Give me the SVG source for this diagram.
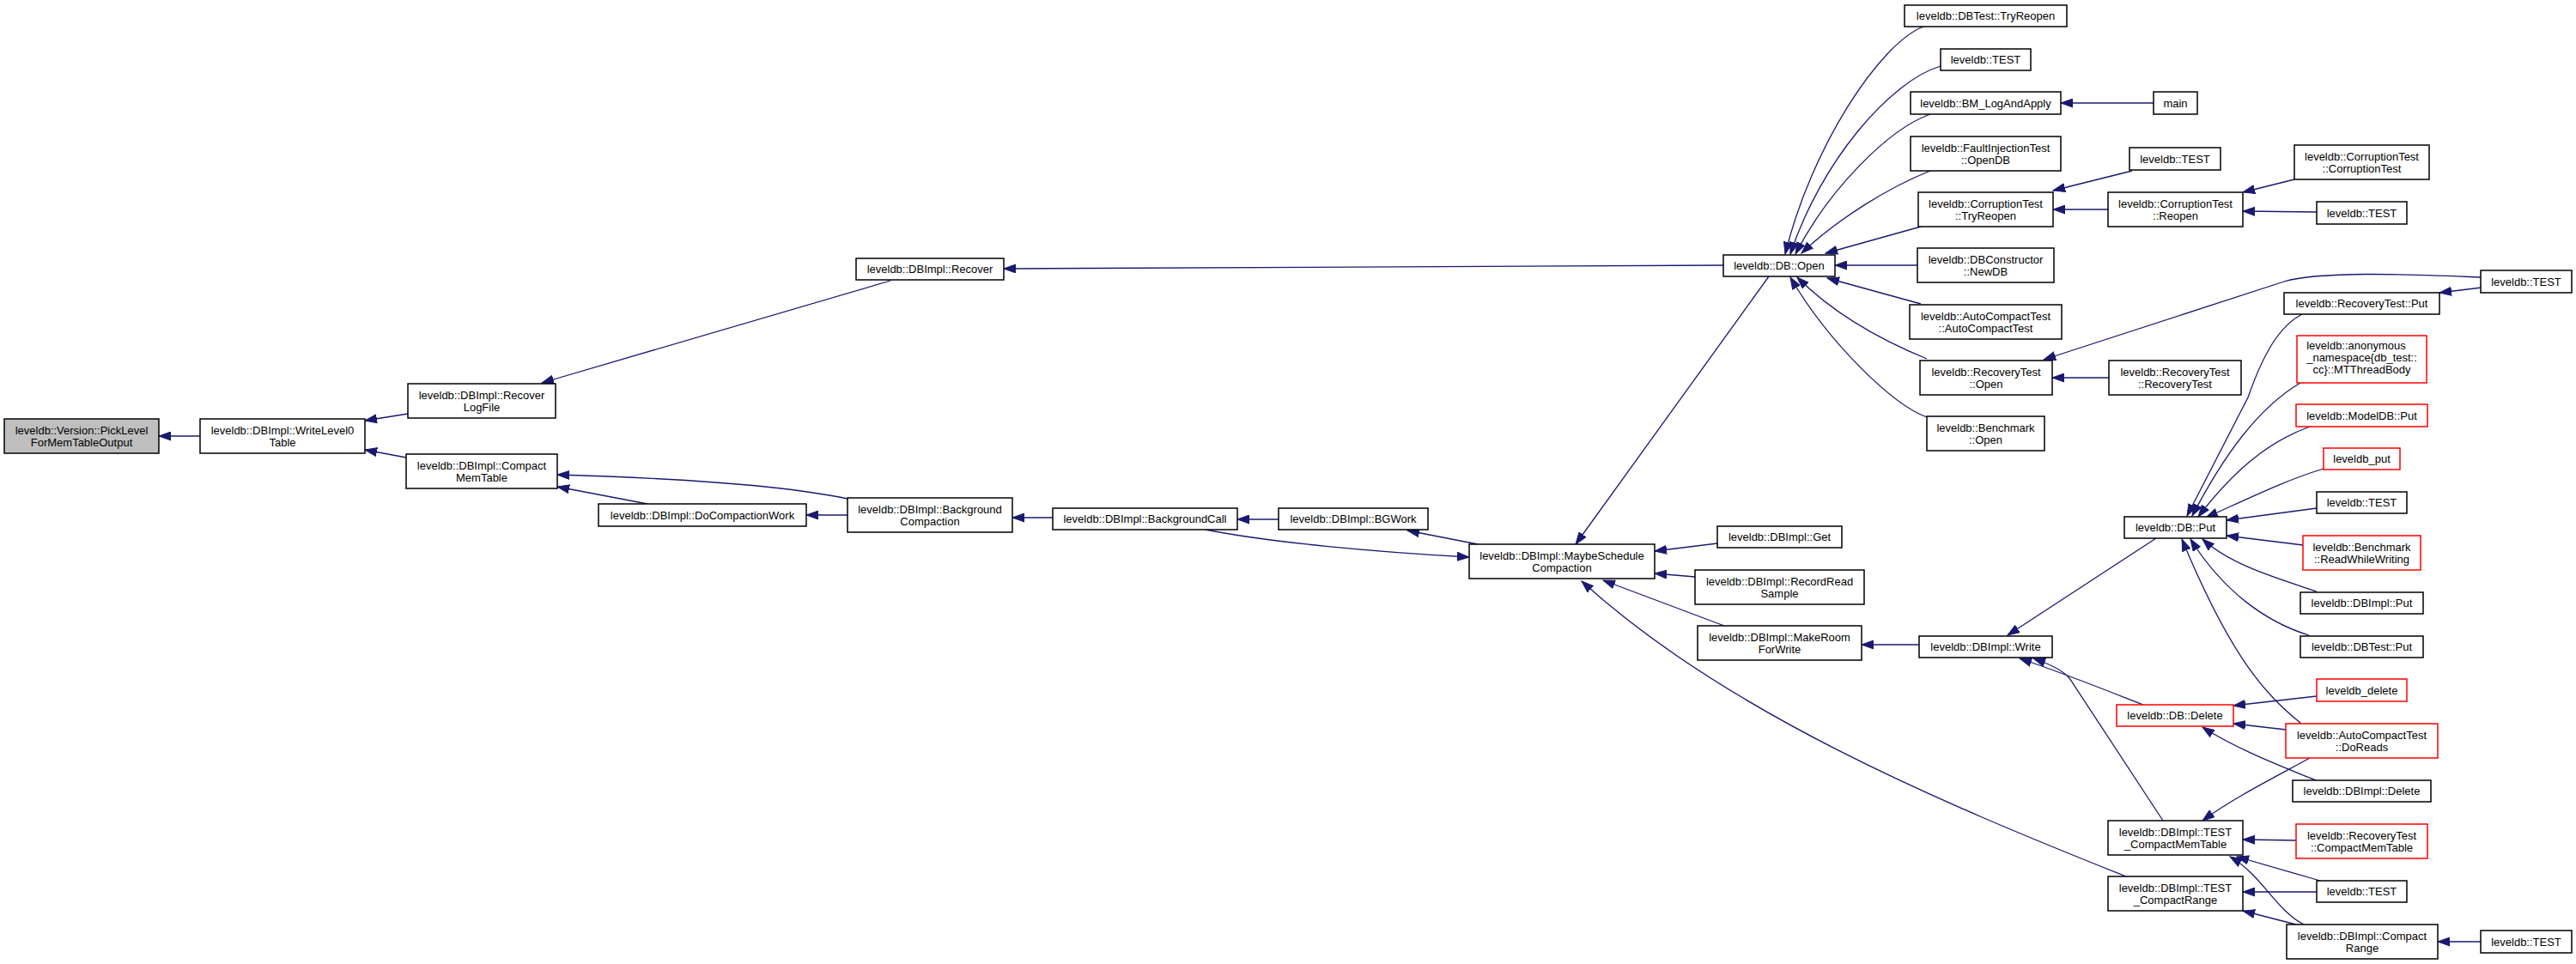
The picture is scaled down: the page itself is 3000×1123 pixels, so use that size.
<svg xmlns="http://www.w3.org/2000/svg" width="3000" height="1123" viewBox="0 0 3000 1123">
<style>
.n rect{fill:#fff;stroke:#000;stroke-width:1.5}
.n.root rect{fill:#bfbfbf}
.n.red rect{stroke:#ff0000}
.n text{font-family:"Liberation Sans",Arial,sans-serif;font-size:13px;fill:#000;text-anchor:middle}
.e path{fill:none;stroke:#191970;stroke-width:1.3;marker-end:url(#ah)}
</style>
<defs>
<marker id="ah" markerUnits="userSpaceOnUse" markerWidth="15" markerHeight="11" refX="14" refY="5.5" orient="auto">
<path d="M0,0.5 L14,5.5 L0,10.5 z" fill="#191970" stroke="#191970" stroke-width="1"/>
</marker>
</defs>
<rect width="3000" height="1123" fill="#fff"/>
<g id="edges" class="e">
<path d="M233,508 L185,508"/>
<path d="M475,482 L425,490"/>
<path d="M473,533 L425,524"/>
<path d="M1037,327 L631,446"/>
<path d="M987,581 C930,569 820,558 649,553"/>
<path d="M754,587 L649,567"/>
<path d="M987,600 L939,600"/>
<path d="M2007,309 L1169,313"/>
<path d="M1226,603 L1179,603"/>
<path d="M1489,605 L1441,605"/>
<path d="M1721,634 L1639,618"/>
<path d="M1404,617 C1480,632 1600,643 1711,649"/>
<path d="M2060,322 L1835,634"/>
<path d="M2000,633 L1927,642"/>
<path d="M1974,672 L1927,668"/>
<path d="M2008,729 L1867,676"/>
<path d="M2476,1021 C2260,935 2010,830 1842,677"/>
<path d="M2240,31 C2190,50 2110,170 2079,296"/>
<path d="M2260,77 C2200,95 2120,190 2085,296"/>
<path d="M2248,133 C2200,150 2130,220 2091,296"/>
<path d="M2248,199 C2200,218 2140,255 2098,295"/>
<path d="M2237,264 L2126,295"/>
<path d="M2233,309 L2137,309"/>
<path d="M2237,354 L2128,324"/>
<path d="M2244,418 C2200,400 2140,370 2093,323"/>
<path d="M2244,486 C2205,472 2130,400 2085,323"/>
<path d="M2508,120 L2400,120"/>
<path d="M2483,199 L2391,222"/>
<path d="M2455,244 L2391,244"/>
<path d="M2672,209 L2612,224"/>
<path d="M2698,247 L2612,246"/>
<path d="M2890,323 C2800,319 2700,316 2660,328 L2380,419"/>
<path d="M2890,335 L2841,341"/>
<path d="M2456,440 L2390,440"/>
<path d="M2681,366 C2660,377 2640,400 2618,463 L2547,601"/>
<path d="M2679,446 C2630,475 2590,530 2553,601"/>
<path d="M2690,497 C2640,515 2600,550 2560,602"/>
<path d="M2706,546 C2660,560 2620,580 2569,603"/>
<path d="M2698,592 L2593,606"/>
<path d="M2682,635 L2593,624"/>
<path d="M2698,689 C2660,676 2600,660 2565,628"/>
<path d="M2689,740 C2640,725 2590,690 2551,628"/>
<path d="M2680,843 C2640,810 2600,770 2541,628"/>
<path d="M2511,627 L2338,740"/>
<path d="M2496,821 C2450,803 2400,783 2352,767"/>
<path d="M2519,956 L2410,790 Q2400,778 2368,767"/>
<path d="M2698,811 L2601,822"/>
<path d="M2662,850 L2601,843"/>
<path d="M2697,909 C2650,890 2600,870 2565,847"/>
<path d="M2690,883 C2650,905 2600,930 2565,956"/>
<path d="M2674,979 L2612,978"/>
<path d="M2702,1026 L2605,998"/>
<path d="M2683,1077 C2650,1060 2635,1020 2597,998"/>
<path d="M2698,1039 L2612,1039"/>
<path d="M2674,1077 L2612,1061"/>
<path d="M2889,1097 L2839,1097"/>
<path d="M2235,751 L2168,751"/>
</g>
<g id="n0" class="n root"><rect x="5" y="488" width="180" height="40"/><text x="95" y="505.5">leveldb::Version::PickLevel</text><text x="95" y="519.5">ForMemTableOutput</text></g>
<g id="n1" class="n"><rect x="233" y="488" width="192" height="40"/><text x="329" y="505.5">leveldb::DBImpl::WriteLevel0</text><text x="329" y="519.5">Table</text></g>
<g id="n2" class="n"><rect x="475" y="447" width="172" height="40"/><text x="561" y="464.5">leveldb::DBImpl::Recover</text><text x="561" y="478.5">LogFile</text></g>
<g id="n3" class="n"><rect x="473" y="529" width="176" height="40"/><text x="561" y="546.5">leveldb::DBImpl::Compact</text><text x="561" y="560.5">MemTable</text></g>
<g id="n4" class="n"><rect x="997" y="301" width="172" height="25"/><text x="1083" y="318">leveldb::DBImpl::Recover</text></g>
<g id="n5" class="n"><rect x="697" y="587" width="242" height="26"/><text x="818" y="604.5">leveldb::DBImpl::DoCompactionWork</text></g>
<g id="n6" class="n"><rect x="987" y="580" width="192" height="40"/><text x="1083" y="597.5">leveldb::DBImpl::Background</text><text x="1083" y="611.5">Compaction</text></g>
<g id="n7" class="n"><rect x="1226" y="592" width="215" height="25"/><text x="1333.5" y="609">leveldb::DBImpl::BackgroundCall</text></g>
<g id="n8" class="n"><rect x="1489" y="592" width="174" height="25"/><text x="1576" y="609">leveldb::DBImpl::BGWork</text></g>
<g id="n9" class="n"><rect x="1711" y="634" width="216" height="40"/><text x="1819" y="651.5">leveldb::DBImpl::MaybeSchedule</text><text x="1819" y="665.5">Compaction</text></g>
<g id="n10" class="n"><rect x="2007" y="297" width="130" height="25"/><text x="2072" y="314">leveldb::DB::Open</text></g>
<g id="n11" class="n"><rect x="2218" y="6" width="189" height="25"/><text x="2312.5" y="23">leveldb::DBTest::TryReopen</text></g>
<g id="n12" class="n"><rect x="2260" y="57" width="105" height="25"/><text x="2312.5" y="74">leveldb::TEST</text></g>
<g id="n13" class="n"><rect x="2225" y="107" width="175" height="26"/><text x="2312.5" y="124.5">leveldb::BM_LogAndApply</text></g>
<g id="n14" class="n"><rect x="2225" y="159" width="175" height="40"/><text x="2312.5" y="176.5">leveldb::FaultInjectionTest</text><text x="2312.5" y="190.5">::OpenDB</text></g>
<g id="n15" class="n"><rect x="2234" y="224" width="157" height="40"/><text x="2312.5" y="241.5">leveldb::CorruptionTest</text><text x="2312.5" y="255.5">::TryReopen</text></g>
<g id="n16" class="n"><rect x="2233" y="289" width="159" height="40"/><text x="2312.5" y="306.5">leveldb::DBConstructor</text><text x="2312.5" y="320.5">::NewDB</text></g>
<g id="n17" class="n"><rect x="2224" y="355" width="177" height="40"/><text x="2312.5" y="372.5">leveldb::AutoCompactTest</text><text x="2312.5" y="386.5">::AutoCompactTest</text></g>
<g id="n18" class="n"><rect x="2236" y="420" width="154" height="40"/><text x="2313" y="437.5">leveldb::RecoveryTest</text><text x="2313" y="451.5">::Open</text></g>
<g id="n19" class="n"><rect x="2244" y="485" width="137" height="40"/><text x="2312.5" y="502.5">leveldb::Benchmark</text><text x="2312.5" y="516.5">::Open</text></g>
<g id="n20" class="n"><rect x="2000" y="613" width="145" height="25"/><text x="2072.5" y="630">leveldb::DBImpl::Get</text></g>
<g id="n21" class="n"><rect x="1974" y="664" width="197" height="40"/><text x="2072.5" y="681.5">leveldb::DBImpl::RecordRead</text><text x="2072.5" y="695.5">Sample</text></g>
<g id="n22" class="n"><rect x="1977" y="729" width="191" height="40"/><text x="2072.5" y="746.5">leveldb::DBImpl::MakeRoom</text><text x="2072.5" y="760.5">ForWrite</text></g>
<g id="n23" class="n"><rect x="2235" y="741" width="155" height="25"/><text x="2312.5" y="758">leveldb::DBImpl::Write</text></g>
<g id="n24" class="n"><rect x="2508" y="107" width="51" height="26"/><text x="2533.5" y="124.5">main</text></g>
<g id="n25" class="n"><rect x="2480" y="172" width="106" height="26"/><text x="2533" y="189.5">leveldb::TEST</text></g>
<g id="n26" class="n"><rect x="2455" y="224" width="157" height="40"/><text x="2533.5" y="241.5">leveldb::CorruptionTest</text><text x="2533.5" y="255.5">::Reopen</text></g>
<g id="n27" class="n"><rect x="2672" y="169" width="157" height="40"/><text x="2750.5" y="186.5">leveldb::CorruptionTest</text><text x="2750.5" y="200.5">::CorruptionTest</text></g>
<g id="n28" class="n"><rect x="2698" y="235" width="105" height="26"/><text x="2750.5" y="252.5">leveldb::TEST</text></g>
<g id="n29" class="n"><rect x="2889" y="315" width="106" height="26"/><text x="2942" y="332.5">leveldb::TEST</text></g>
<g id="n30" class="n"><rect x="2660" y="341" width="181" height="25"/><text x="2750.5" y="358">leveldb::RecoveryTest::Put</text></g>
<g id="n31" class="n"><rect x="2456" y="420" width="154" height="40"/><text x="2533" y="437.5">leveldb::RecoveryTest</text><text x="2533" y="451.5">::RecoveryTest</text></g>
<g id="n32" class="n red"><rect x="2675" y="391" width="151" height="55"/><text x="2744" y="407">leveldb::anonymous</text><text x="2750.5" y="421">_namespace{db_test::</text><text x="2750.5" y="435">cc}::MTThreadBody</text></g>
<g id="n33" class="n red"><rect x="2674" y="471" width="153" height="26"/><text x="2750.5" y="488.5">leveldb::ModelDB::Put</text></g>
<g id="n34" class="n red"><rect x="2706" y="522" width="89" height="25"/><text x="2750.5" y="539">leveldb_put</text></g>
<g id="n35" class="n"><rect x="2698" y="573" width="105" height="25"/><text x="2750.5" y="590">leveldb::TEST</text></g>
<g id="n36" class="n"><rect x="2474" y="602" width="119" height="25"/><text x="2533.5" y="619">leveldb::DB::Put</text></g>
<g id="n37" class="n red"><rect x="2682" y="624" width="137" height="40"/><text x="2750.5" y="641.5">leveldb::Benchmark</text><text x="2750.5" y="655.5">::ReadWhileWriting</text></g>
<g id="n38" class="n"><rect x="2679" y="690" width="143" height="25"/><text x="2750.5" y="707">leveldb::DBImpl::Put</text></g>
<g id="n39" class="n"><rect x="2679" y="741" width="143" height="25"/><text x="2750.5" y="758">leveldb::DBTest::Put</text></g>
<g id="n40" class="n red"><rect x="2698" y="791" width="105" height="26"/><text x="2750.5" y="808.5">leveldb_delete</text></g>
<g id="n41" class="n red"><rect x="2465" y="821" width="136" height="25"/><text x="2533" y="838">leveldb::DB::Delete</text></g>
<g id="n42" class="n red"><rect x="2662" y="843" width="177" height="40"/><text x="2750.5" y="860.5">leveldb::AutoCompactTest</text><text x="2750.5" y="874.5">::DoReads</text></g>
<g id="n43" class="n"><rect x="2670" y="909" width="161" height="25"/><text x="2750.5" y="926">leveldb::DBImpl::Delete</text></g>
<g id="n44" class="n"><rect x="2455" y="956" width="157" height="40"/><text x="2533.5" y="973.5">leveldb::DBImpl::TEST</text><text x="2533.5" y="987.5">_CompactMemTable</text></g>
<g id="n45" class="n red"><rect x="2674" y="960" width="153" height="40"/><text x="2750.5" y="977.5">leveldb::RecoveryTest</text><text x="2750.5" y="991.5">::CompactMemTable</text></g>
<g id="n46" class="n"><rect x="2698" y="1026" width="105" height="25"/><text x="2750.5" y="1043">leveldb::TEST</text></g>
<g id="n47" class="n"><rect x="2455" y="1021" width="157" height="40"/><text x="2533.5" y="1038.5">leveldb::DBImpl::TEST</text><text x="2533.5" y="1052.5">_CompactRange</text></g>
<g id="n48" class="n"><rect x="2663" y="1077" width="176" height="40"/><text x="2751" y="1094.5">leveldb::DBImpl::Compact</text><text x="2751" y="1108.5">Range</text></g>
<g id="n49" class="n"><rect x="2889" y="1084" width="106" height="26"/><text x="2942" y="1101.5">leveldb::TEST</text></g>
</svg>
